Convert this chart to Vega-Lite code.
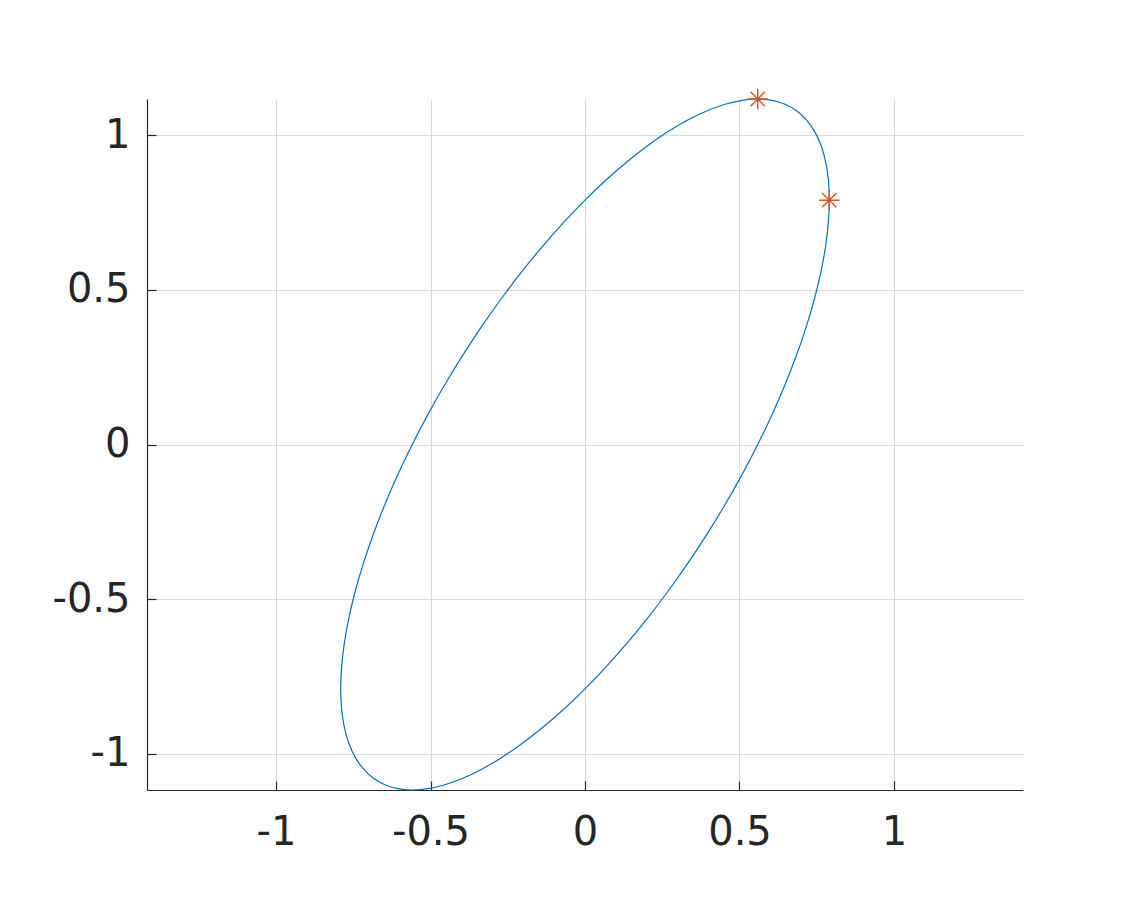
{
  "$schema": "https://vega.github.io/schema/vega-lite/v6.json",
  "width": 876,
  "height": 691,
  "autosize": {"type": "none"},
  "padding": {"left": 147, "top": 99, "right": 108, "bottom": 133},
  "background": "white",
  "config": {
    "view": {"stroke": null},
    "font": "DejaVu Sans",
    "axis": {
      "domainColor": "#262626",
      "domainWidth": 1.2,
      "tickColor": "#262626",
      "tickWidth": 1.2,
      "tickSize": -9,
      "gridColor": "#d8d8d8",
      "gridWidth": 1,
      "labelColor": "#262626",
      "labelFont": "DejaVu Sans",
      "labelFontSize": 40,
      "title": null
    }
  },
  "datasets": {
    "ellipse": [
      {"i": 0, "x": 0.7906, "y": 0.7906},
      {"i": 1, "x": 0.7876, "y": 0.8565},
      {"i": 2, "x": 0.7786, "y": 0.9159},
      {"i": 3, "x": 0.7637, "y": 0.9683},
      {"i": 4, "x": 0.7429, "y": 1.0133},
      {"i": 5, "x": 0.7165, "y": 1.0506},
      {"i": 6, "x": 0.6847, "y": 1.0800},
      {"i": 7, "x": 0.6476, "y": 1.1011},
      {"i": 8, "x": 0.6056, "y": 1.1138},
      {"i": 9, "x": 0.5590, "y": 1.1180},
      {"i": 10, "x": 0.5082, "y": 1.1138},
      {"i": 11, "x": 0.4535, "y": 1.1011},
      {"i": 12, "x": 0.3953, "y": 1.0800},
      {"i": 13, "x": 0.3341, "y": 1.0506},
      {"i": 14, "x": 0.2704, "y": 1.0133},
      {"i": 15, "x": 0.2046, "y": 0.9683},
      {"i": 16, "x": 0.1373, "y": 0.9159},
      {"i": 17, "x": 0.0689, "y": 0.8565},
      {"i": 18, "x": 0.0, "y": 0.7906},
      {"i": 19, "x": -0.0689, "y": 0.7187},
      {"i": 20, "x": -0.1373, "y": 0.6413},
      {"i": 21, "x": -0.2046, "y": 0.5591},
      {"i": 22, "x": -0.2704, "y": 0.4725},
      {"i": 23, "x": -0.3341, "y": 0.3824},
      {"i": 24, "x": -0.3953, "y": 0.2894},
      {"i": 25, "x": -0.4535, "y": 0.1941},
      {"i": 26, "x": -0.5082, "y": 0.0974},
      {"i": 27, "x": -0.5590, "y": 0.0},
      {"i": 28, "x": -0.6056, "y": -0.0974},
      {"i": 29, "x": -0.6476, "y": -0.1941},
      {"i": 30, "x": -0.6847, "y": -0.2894},
      {"i": 31, "x": -0.7165, "y": -0.3824},
      {"i": 32, "x": -0.7429, "y": -0.4725},
      {"i": 33, "x": -0.7637, "y": -0.5591},
      {"i": 34, "x": -0.7786, "y": -0.6413},
      {"i": 35, "x": -0.7876, "y": -0.7187},
      {"i": 36, "x": -0.7906, "y": -0.7906},
      {"i": 37, "x": -0.7876, "y": -0.8565},
      {"i": 38, "x": -0.7786, "y": -0.9159},
      {"i": 39, "x": -0.7637, "y": -0.9683},
      {"i": 40, "x": -0.7429, "y": -1.0133},
      {"i": 41, "x": -0.7165, "y": -1.0506},
      {"i": 42, "x": -0.6847, "y": -1.0800},
      {"i": 43, "x": -0.6476, "y": -1.1011},
      {"i": 44, "x": -0.6056, "y": -1.1138},
      {"i": 45, "x": -0.5590, "y": -1.1180},
      {"i": 46, "x": -0.5082, "y": -1.1138},
      {"i": 47, "x": -0.4535, "y": -1.1011},
      {"i": 48, "x": -0.3953, "y": -1.0800},
      {"i": 49, "x": -0.3341, "y": -1.0506},
      {"i": 50, "x": -0.2704, "y": -1.0133},
      {"i": 51, "x": -0.2046, "y": -0.9683},
      {"i": 52, "x": -0.1373, "y": -0.9159},
      {"i": 53, "x": -0.0689, "y": -0.8565},
      {"i": 54, "x": 0.0, "y": -0.7906},
      {"i": 55, "x": 0.0689, "y": -0.7187},
      {"i": 56, "x": 0.1373, "y": -0.6413},
      {"i": 57, "x": 0.2046, "y": -0.5591},
      {"i": 58, "x": 0.2704, "y": -0.4725},
      {"i": 59, "x": 0.3341, "y": -0.3824},
      {"i": 60, "x": 0.3953, "y": -0.2894},
      {"i": 61, "x": 0.4535, "y": -0.1941},
      {"i": 62, "x": 0.5082, "y": -0.0974},
      {"i": 63, "x": 0.5590, "y": 0.0},
      {"i": 64, "x": 0.6056, "y": 0.0974},
      {"i": 65, "x": 0.6476, "y": 0.1941},
      {"i": 66, "x": 0.6847, "y": 0.2894},
      {"i": 67, "x": 0.7165, "y": 0.3824},
      {"i": 68, "x": 0.7429, "y": 0.4725},
      {"i": 69, "x": 0.7637, "y": 0.5591},
      {"i": 70, "x": 0.7786, "y": 0.6413},
      {"i": 71, "x": 0.7876, "y": 0.7187}
    ],
    "stars": [
      {"x": 0.5590, "y": 1.1180},
      {"x": 0.7906, "y": 0.7906}
    ]
  },
  "layer": [
    {
      "data": {"name": "ellipse"},
      "mark": {"type": "line", "interpolate": "cardinal-closed", "color": "#0072BD", "strokeWidth": 1.2, "clip": false},
      "encoding": {
        "x": {
          "field": "x", "type": "quantitative",
          "scale": {"domain": [-1.4175, 1.4175], "nice": false, "zero": false},
          "axis": {"values": [-1, -0.5, 0, 0.5, 1], "labelExpr": "toString(datum.value)", "labelBaseline": "alphabetic", "labelPadding": 63, "labelFlush": false}
        },
        "y": {
          "field": "y", "type": "quantitative",
          "scale": {"domain": [-1.118, 1.118], "nice": false, "zero": false},
          "axis": {"values": [-1, -0.5, 0, 0.5, 1], "labelExpr": "toString(datum.value)", "labelPadding": 26, "labelFlush": false}
        },
        "order": {"field": "i", "type": "quantitative"}
      }
    },
    {
      "data": {"name": "stars"},
      "mark": {
        "type": "point",
        "shape": "M-1,0L1,0M0,-1L0,1M-0.7,-0.7L0.7,0.7M-0.7,0.7L0.7,-0.7",
        "filled": false,
        "stroke": "#D95319",
        "strokeWidth": 1.4,
        "opacity": 1,
        "size": 420,
        "clip": false
      },
      "encoding": {
        "x": {"field": "x", "type": "quantitative"},
        "y": {"field": "y", "type": "quantitative"}
      }
    }
  ]
}
